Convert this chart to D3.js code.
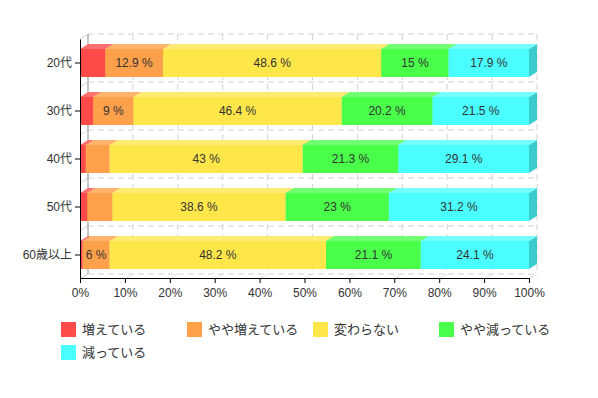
<!DOCTYPE html>
<html>
<head>
<meta charset="utf-8">
<script src="https://cdn.jsdelivr.net/npm/d3@7"></script>
<style>
body{margin:0;background:#fff;}
text{font-family:"Liberation Sans",Arial,"Noto Sans CJK JP",sans-serif;fill:#333;}
</style>
</head>
<body>
<div id="chart"></div>
<script>
// data
var categories=['20代','30代','40代','50代','60歳以上'];
var seriesNames=['増えている','やや増えている','変わらない','やや減っている','減っている'];
var fuete=[5.6,2.9,1.3,1.6,0.6];
var yayaFuete=[12.9,9,5.3,5.6,6];
var kawaranai=[48.6,46.4,43,38.6,48.2];
var yayaHette=[15,20.2,21.3,23,21.1];
var hette=[17.9,21.5,29.1,31.2,24.1];
var xTicks=[0,10,20,30,40,50,60,70,80,90,100];

var colors=['#ff4a4a','#ffa04a','#ffe74a','#4aff4a','#4affff'];
var topColors=['#ff7070','#ffb46e','#ffec74','#72ff72','#74ffff'];
var sideColors=['#cc3b3b','#cc803b','#ccb93b','#3bcc3b','#3dcccc'];

var svgW=598,svgH=398;
var dx=8,dy=-5; // 3d depth
var plotL=80,plotR=529,plotT=39,plotB=279;

var svg=d3.select('#chart').append('svg')
    .attr('width',svgW)
    .attr('height',svgH)

var x=d3.scaleLinear().domain([0,100]).range([plotL,plotR]);
var y=d3.scaleBand().domain(categories).range([plotT,plotB]);
var barH=28;

// back wall / grid
var grid=svg.append('g');
xTicks.forEach(function(t){
    grid.append('line')
        .attr('x1',x(t)+dx).attr('x2',x(t)+dx)
        .attr('y1',plotT+dy).attr('y2',plotB+dy)
        .attr('stroke','#d4d4d4').attr('stroke-dasharray','6,4');
    grid.append('line')
        .attr('x1',x(t)).attr('x2',x(t)+dx)
        .attr('y1',plotB).attr('y2',plotB+dy)
        .attr('stroke','#e2e2e2');
});
var bounds=categories.map(function(c){return y(c);}).concat([plotB]);
bounds.forEach(function(b){
    grid.append('line')
        .attr('x1',plotL+dx).attr('x2',plotR+dx)
        .attr('y1',b+dy).attr('y2',b+dy)
        .attr('stroke','#d4d4d4').attr('stroke-dasharray','6,4');
    grid.append('line')
        .attr('x1',plotL).attr('x2',plotL+dx)
        .attr('y1',b).attr('y2',b+dy)
        .attr('stroke','#d4d4d4');
});
grid.append('line')
    .attr('x1',plotL+dx).attr('x2',plotL+dx)
    .attr('y1',plotT+dy).attr('y2',plotB+dy)
    .attr('stroke','#999');

// stacked bars
var series=[fuete,yayaFuete,kawaranai,yayaHette,hette];
var bars=svg.append('g');
categories.forEach(function(cat,i){
    var yc=y(cat)+y.bandwidth()/2;
    var y0=yc-barH/2,y1=yc+barH/2;
    var cum=0;
    series.forEach(function(s,k){
        var v=s[i];
        var xa=x(cum),xb=x(cum+v);
        cum+=v;
        // right face
        bars.append('path')
            .attr('d',`M${xb},${y0}L${xb+dx},${y0+dy}L${xb+dx},${y1+dy}L${xb},${y1}Z`)
            .attr('fill',sideColors[k]);
        // top face
        bars.append('path')
            .attr('d',`M${xa},${y0}L${xa+dx},${y0+dy}L${xb+dx},${y0+dy}L${xb},${y0}Z`)
            .attr('fill',topColors[k]);
        // front
        bars.append('rect')
            .attr('x',xa).attr('y',y0)
            .attr('width',xb-xa).attr('height',barH)
            .attr('fill',colors[k]);
    });
    // labels
    cum=0;
    series.forEach(function(s,k){
        var v=s[i];
        if(v>=6){
            bars.append('text')
                .attr('x',x(cum+v/2)).attr('y',yc+4)
                .attr('text-anchor','middle')
                .attr('font-size',12)
                .text(v+' %');
        }
        cum+=v;
    });
});

// axes
var xAxis=d3.axisBottom(x).tickValues(xTicks).tickSize(5).tickFormat(function(d){return d+'%';});
var xg=svg.append('g').attr('transform',`translate(0,${plotB-1})`).call(xAxis);
xg.select('.domain').attr('stroke','#000');
xg.selectAll('.tick line').attr('stroke','#000');
xg.selectAll('text').attr('font-size',12).attr('fill','#333').attr('dy','0.9em');

var yAxis=d3.axisLeft(y).tickSize(5).tickSizeOuter(0);
var yg=svg.append('g').attr('transform',`translate(${plotL},0)`).call(yAxis);
yg.select('.domain').attr('stroke','#000');
yg.selectAll('.tick line').attr('stroke','#000');
yg.selectAll('text').attr('font-size',12).attr('fill','#333');
svg.selectAll('.tick text').style('font-family','"Liberation Sans",Arial,"Noto Sans CJK JP",sans-serif');

// legend
var legend=svg.append('g');
seriesNames.forEach(function(n,k){
    var lx=61+(k%4)*126, ly=322+Math.floor(k/4)*23;
    legend.append('rect').attr('x',lx).attr('y',ly).attr('width',15).attr('height',15).attr('fill',colors[k]);
    legend.append('text').attr('x',lx+21).attr('y',ly+12).attr('font-size',13).text(n);
});
</script>
</body>
</html>
